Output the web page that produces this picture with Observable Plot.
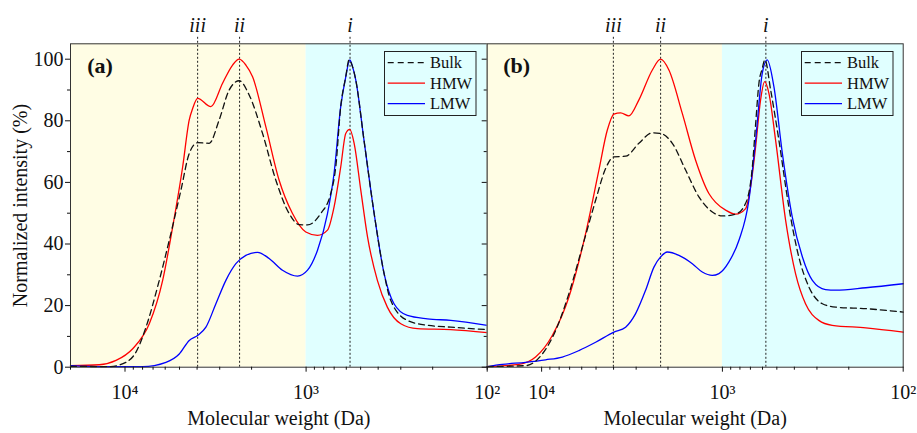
<!DOCTYPE html>
<html><head><meta charset="utf-8">
<script src="https://cdn.jsdelivr.net/npm/d3@7"></script>
<script src="https://cdn.jsdelivr.net/npm/@observablehq/plot@0.6"></script>
<style>
html,body{margin:0;padding:0;background:#fff;}
#chart{position:relative;width:917px;height:433px;overflow:hidden;font-family:"Liberation Serif","Times New Roman",serif;}
</style></head>
<body><div id="chart"></div>
<script>
// ---------- data ----------
const xDomain = [20000, 100];          // molecular weight, Da (reversed log axis)
const regionSplit = 1000;              // boundary between the yellow and cyan regions
const yMax = 105;
const yMajor = [0, 20, 40, 60, 80, 100];
const yMinor = [10, 30, 50, 70, 90];
const xMajor = [10000, 1000, 100];
const xTickLabels = ["10\u2074", "10\u00b3", "10\u00b2"];
const xMinor = [20000, 9000, 8000, 7000, 6000, 5000, 4000, 3000, 2000, 900, 800, 700, 600, 500, 400, 300, 200];
const guideLabels = ["iii", "ii", "i"];
const guidesA = [3972, 2330, 572];
const guidesB = [4010, 2197, 575];
const seriesNames = ["Bulk", "HMW", "LMW"];

// Panel (a)
const aBulkMw = [20000, 12210, 9874, 8696, 7660, 6468, 5698, 4911, 4419, 3972, 3428, 3020, 2659, 2342, 2063, 1740, 1469, 1241, 1093, 982, 830, 731, 686, 644, 604, 579, 557, 532, 479, 421, 371, 341, 276, 214, 159, 100];
const aBulk   = [0.3, 0.2, 1.6, 4.9, 13, 28.2, 41.2, 57.5, 69.4, 72.9, 72.7, 80.3, 90, 93, 88.4, 75.9, 60.7, 49.9, 46.3, 46.2, 49.9, 56.4, 65, 84.6, 94.3, 99.8, 98, 93.3, 73.7, 49.9, 30.4, 21.7, 15.2, 13.6, 13.0, 12.2];
const aHmwMw  = [20000, 13860, 11210, 9067, 7345, 6196, 5457, 4806, 4419, 4232, 3972, 3355, 2892, 2547, 2342, 2151, 1975, 1668, 1409, 1189, 1004, 865, 762, 701, 644, 604, 574, 543, 499, 458, 404, 356, 300, 243, 159, 100];
const aHmw    = [0.5, 0.8, 2.2, 6.0, 14.1, 28.2, 45.5, 65, 80.3, 84, 87.3, 84.6, 92.2, 98.1, 100, 98.1, 94.3, 78, 60.7, 49.9, 43.9, 42.8, 44.5, 52, 65, 75.9, 77.2, 72.7, 57.5, 42.3, 28.2, 19.5, 14.1, 12.5, 12.2, 11.2];
const aLmwMw  = [20000, 13860, 7988, 5942, 5018, 4419, 3972, 3575, 3149, 2773, 2442, 2151, 1854, 1600, 1350, 1115, 982, 865, 762, 701, 644, 604, 574, 557, 532, 479, 421, 371, 327, 276, 214, 159, 100];
const aLmw    = [0.5, 0.2, 0.2, 1.6, 4.3, 8.7, 10.3, 13.0, 20.6, 28.2, 33.6, 36.3, 37.3, 35.3, 31.5, 29.6, 31.5, 38, 49.9, 62.9, 84.6, 94.3, 99.8, 98, 93.3, 73.7, 49.9, 30.4, 20.6, 16.8, 15.7, 15.2, 13.6];

// Panel (b)
const bBulkMw = [20000, 12260, 9911, 8368, 7063, 5955, 5027, 4426, 3983, 3431, 2896, 2441, 2197, 1893, 1598, 1349, 1137, 1001, 845, 744, 683, 655, 628, 602, 582, 541, 487, 429, 378, 332, 280, 236, 161, 100];
const bBulk   = [0.2, 0.5, 4.3, 11.9, 23.9, 39, 54.2, 64.5, 68.3, 68.5, 72.7, 76.1, 75.9, 72.7, 64, 55.3, 50.4, 49.1, 49.7, 53.2, 65, 79, 92.2, 97, 99.8, 90, 73.7, 52, 35.8, 26, 20.6, 19.5, 19, 17.9];
const bHmwMw  = [20000, 13350, 10800, 8727, 7063, 5710, 4822, 4331, 3983, 3657, 3290, 2896, 2441, 2197, 1977, 1667, 1407, 1188, 1090, 960, 845, 744, 698, 655, 615, 584, 553, 508, 447, 394, 347, 293, 247, 161, 100];
const bHmw    = [0.2, 0.9, 3.3, 10.3, 22.8, 43.4, 64, 77, 82.2, 82.6, 81.6, 86.8, 96.5, 100, 96.5, 82.4, 67.2, 56.4, 53.5, 51, 49.7, 51.5, 58.6, 71.6, 86.8, 92.7, 88.9, 73.7, 47.7, 30.4, 20.6, 15.2, 13.6, 12.8, 11.4];
const bLmwMw  = [20000, 16500, 12260, 9504, 7683, 6219, 5027, 3983, 3431, 3021, 2659, 2392, 2197, 2017, 1740, 1467, 1292, 1137, 1045, 920, 810, 714, 655, 602, 565, 519, 466, 411, 361, 318, 269, 236, 161, 100];
const bLmw    = [0.2, 0.9, 1.6, 2.4, 3.3, 5.4, 8.1, 11.4, 13, 17.4, 25, 32.5, 35.8, 37.4, 36.3, 33.6, 30.9, 29.8, 30.4, 34.2, 41.2, 54.2, 73.7, 95.4, 99.8, 91.1, 69.4, 48.8, 35.8, 28.2, 25.2, 25, 25.8, 27.1];

// ---------- helpers ----------
const rows = (mw, v) => mw.map((m, i) => ({mw: m, v: v[i]}));
const guideRows = (g) => g.map((m, i) => ({mw: m, label: guideLabels[i]}));
const styleOf = {
  Bulk: {stroke: "#111", strokeDasharray: "6,4", strokeWidth: 1.3},
  HMW:  {stroke: "#ff0000", strokeWidth: 1.3},
  LMW:  {stroke: "#0000ff", strokeWidth: 1.3}
};
const W = 917, H = 433, frameTop = 43.3, frameBottom = 366.7;
const serif = "Liberation Serif";

function panel({left, right, bulk, hmw, lmw, guides, tag, first}) {
  const marks = [
    Plot.rect([{from: xDomain[0], to: regionSplit}], {x1: "from", x2: "to", y1: 0, y2: yMax, fill: "#fffde4"}),
    Plot.rect([{from: regionSplit, to: xDomain[1]}], {x1: "from", x2: "to", y1: 0, y2: yMax, fill: "#e0ffff"}),
    Plot.ruleX(guideRows(guides), {x: "mw", stroke: "#222", strokeWidth: 1, strokeDasharray: "2,2", insetTop: -6.5}),
    Plot.text(guideRows(guides), {x: "mw", text: "label", frameAnchor: "top", lineAnchor: "middle", textAnchor: "middle",
      dy: -18.2, fontStyle: "italic", fontSize: 20, fontFamily: serif, fill: "#111"}),
    Plot.line(rows(hmw[0], hmw[1]), {x: "mw", y: "v", curve: "monotone-x", ...styleOf.HMW}),
    Plot.line(rows(lmw[0], lmw[1]), {x: "mw", y: "v", curve: "monotone-x", ...styleOf.LMW}),
    Plot.line(rows(bulk[0], bulk[1]), {x: "mw", y: "v", curve: "monotone-x", ...styleOf.Bulk}),
    Plot.frame({stroke: "#333", strokeWidth: 1}),
    Plot.axisX({ticks: xMajor, tickSize: 5, tickPadding: 13, fontSize: 20, fontFamily: serif, label: null,
      tickFormat: d => xTickLabels[xMajor.indexOf(d)]}),
    Plot.axisX({ticks: xMinor, tickSize: 3, text: null, label: null}),
    first
      ? Plot.axisY({ticks: yMajor, tickSize: 5, tickPadding: 2, fontSize: 20, fontFamily: serif, label: null, tickFormat: d => String(d)})
      : Plot.axisY({ticks: yMajor, tickSize: 5, text: null, label: null}),
    Plot.axisY({ticks: yMinor, tickSize: 3, text: null, label: null}),
    Plot.text(["Molecular weight (Da)"], {text: d => d, frameAnchor: "bottom", lineAnchor: "middle", textAnchor: "middle",
      dy: 51, fontSize: 20, fontFamily: serif, fill: "#111"}),
    Plot.text([tag], {text: d => d, frameAnchor: "top-left", lineAnchor: "middle", textAnchor: "middle",
      dx: 29.5, dy: 22.2, fontSize: 22, fontWeight: "bold", fontFamily: serif, fill: "#111"})
  ];
  if (first) {
    marks.push(Plot.text(["Normalized intensity (%)"], {text: d => d, frameAnchor: "left", lineAnchor: "middle", textAnchor: "middle",
      dx: -50, rotate: -90, fontSize: 20, fontFamily: serif, fill: "#111"}));
  }
  return Plot.plot({
    width: W, height: H,
    marginLeft: left, marginRight: W - right, marginTop: frameTop, marginBottom: H - frameBottom,
    x: {type: "log", domain: xDomain},
    y: {domain: [0, yMax]},
    style: "position:absolute;left:0;top:0;background:transparent;overflow:visible;font-family:'Liberation Serif','Times New Roman',serif;font-size:20px;color:#111;",
    marks
  });
}

function legend(x, y) {
  const svg = d3.select("#chart").append("svg")
    .attr("width", 93).attr("height", 66)
    .style("position", "absolute").style("left", x + "px").style("top", y + "px")
    .style("font-family", "'Liberation Serif','Times New Roman',serif");
  svg.append("rect").attr("x", 0.5).attr("y", 0.5).attr("width", 91.5).attr("height", 64)
    .attr("fill", "none").attr("stroke", "#222").attr("stroke-width", 1);
  seriesNames.forEach((name, i) => {
    const cy = 11.7 + i * 20.5;
    const s = styleOf[name];
    svg.append("line").attr("x1", 3.7).attr("x2", 41).attr("y1", cy).attr("y2", cy)
      .attr("stroke", s.stroke).attr("stroke-width", s.strokeWidth)
      .attr("stroke-dasharray", s.strokeDasharray || null);
    svg.append("text").attr("x", 46).attr("y", cy).attr("dy", "0.34em")
      .attr("font-size", 16.5).attr("fill", "#111").text(name);
  });
}

const chart = document.getElementById("chart");
chart.appendChild(panel({left: 70, right: 486.7, bulk: [aBulkMw, aBulk], hmw: [aHmwMw, aHmw], lmw: [aLmwMw, aLmw], guides: guidesA, tag: "(a)", first: true}));
chart.appendChild(panel({left: 486.7, right: 902.7, bulk: [bBulkMw, bBulk], hmw: [bHmwMw, bHmw], lmw: [bLmwMw, bLmw], guides: guidesB, tag: "(b)", first: false}));
legend(384, 51);
legend(800.5, 51);
</script>
</body></html>
